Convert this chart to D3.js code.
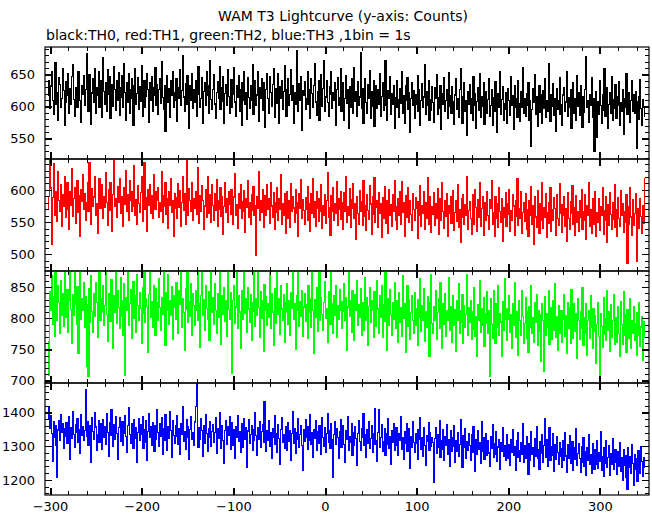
<!DOCTYPE html>
<html><head><meta charset="utf-8">
<script src="https://cdn.jsdelivr.net/npm/d3@7"></script>
<style>body{margin:0;background:#fff}svg{display:block}</style>
</head><body><svg id="c" width="652" height="515"></svg>
<script>
const titleText = "WAM T3 Lightcurve (y-axis: Counts)";
const subtitleText = "black:TH0, red:TH1, green:TH2, blue:TH3 ,1bin = 1s";
const timeStart = -302; // seconds, 1 bin = 1 s
const xMajorTicks = [-300,-200,-100,0,100,200,300];

const th0 = [
618,641,597,632,655,610,588,627,669,603,621,579,645,634,598,612,660,625,571,606,
639,617,652,590,628,603,647,666,611,584,630,622,598,655,640,609,575,633,619,648,
601,627,682,614,593,650,636,572,621,644,607,660,589,629,617,655,598,640,611,583,
676,624,604,637,592,658,619,646,581,613,635,600,662,627,594,641,609,653,586,630,
615,648,598,667,622,579,638,606,651,590,627,643,612,571,633,659,603,620,645,596,
631,608,664,585,623,641,599,616,652,627,575,638,610,647,592,629,618,661,601,634,
588,626,643,605,670,614,596,632,561,623,649,607,628,583,640,617,655,598,621,609,
644,577,630,612,658,601,625,679,615,592,636,604,648,621,566,633,610,652,597,627,
606,640,585,619,662,628,599,613,645,574,624,637,602,655,618,590,632,671,611,596,
627,650,604,581,622,639,612,663,595,630,608,646,573,620,635,601,657,616,589,628,
642,598,619,661,607,584,633,615,649,592,626,571,638,610,654,603,621,580,645,614,
597,632,609,666,588,624,641,602,618,655,577,629,612,643,594,637,606,568,627,651,
613,590,646,622,600,635,659,583,617,628,605,652,574,631,612,640,596,623,664,608,
585,627,644,601,619,658,610,633,574,621,604,688,615,592,636,609,647,563,625,618,
639,596,612,655,603,627,581,644,620,598,633,667,607,586,624,641,579,616,650,600,
628,672,593,615,640,606,584,631,619,655,597,622,609,638,571,626,645,601,614,660,
592,620,637,578,613,649,605,626,566,631,598,644,617,589,661,608,623,584,639,602,
615,684,597,628,574,619,643,606,590,635,612,656,581,624,600,641,569,618,633,597,
627,603,651,585,616,638,594,609,672,601,579,625,612,647,588,620,604,633,566,614,
598,640,611,583,628,605,654,590,617,573,632,609,645,596,621,560,613,637,601,625,
582,619,604,648,593,627,571,610,636,599,615,665,587,623,602,640,578,611,594,631,
606,575,629,612,650,588,614,597,633,565,620,603,645,592,609,626,581,653,600,617,
589,631,607,572,618,644,596,612,583,627,660,601,574,615,638,593,609,555,624,603,
635,590,612,578,647,601,620,566,608,629,594,652,583,615,600,637,572,606,624,589,
611,643,585,602,626,570,614,593,639,605,560,620,598,655,588,611,631,579,604,622,
596,573,628,609,586,646,601,617,565,632,599,612,583,641,605,576,624,598,661,590,
613,584,620,602,637,578,609,538,595,628,606,650,587,615,569,599,633,591,618,574,
625,597,644,583,610,592,667,604,577,619,600,636,586,612,561,628,595,609,645,588,
603,571,618,630,592,607,655,584,614,598,626,566,609,637,590,612,579,648,600,621,
586,633,604,568,615,591,627,678,598,610,575,619,602,645,583,612,530,596,624,552,
607,588,640,601,573,618,594,660,585,609,629,566,603,621,590,646,578,611,597,634,
582,615,601,639,570,606,592,627,556,613,598,652,587,604,621,575,610,640,593,618,
589,624,535,607,580,616,642,597,571,611,600,585];

const th1 = [
572,590,646,603,515,588,641,560,577,597,551,629,584,566,608,543,592,575,620,557,
583,612,569,538,598,576,633,559,587,604,548,579,615,565,591,528,600,582,623,570,
595,553,580,611,567,642,585,546,602,574,589,620,561,578,533,596,617,571,584,609,
556,590,573,627,581,545,600,568,612,576,536,593,649,574,587,558,605,580,618,563,
589,571,544,603,577,630,566,592,552,615,583,567,598,574,637,560,585,547,606,579,
565,596,620,551,582,642,570,588,535,601,576,609,563,591,555,624,578,569,597,584,
603,558,580,566,629,549,591,574,611,562,587,540,598,576,617,565,583,527,595,571,
588,556,610,573,599,543,581,620,568,594,547,645,577,560,602,583,566,612,552,586,
571,598,562,634,579,548,591,567,606,584,539,575,600,557,621,581,563,593,550,609,
576,552,594,568,616,543,583,570,603,559,590,531,574,612,565,587,549,597,578,562,
601,570,546,589,625,561,577,540,594,572,608,555,582,566,599,534,587,573,614,558,
580,547,593,568,605,560,576,498,589,571,629,553,583,565,600,542,575,591,561,608,
569,586,548,612,575,557,596,538,581,565,603,552,587,570,623,546,578,560,595,533,
574,598,556,583,541,610,566,590,572,549,601,563,580,527,594,571,616,555,585,568,
547,588,570,605,553,579,536,595,564,618,558,582,543,598,571,551,587,566,609,540,
576,561,593,548,584,627,557,572,530,591,566,604,552,579,563,613,545,586,569,597,
554,580,538,596,567,621,549,574,560,602,542,585,571,610,556,578,523,590,563,547,
599,566,582,545,614,559,575,537,592,568,554,606,578,531,589,562,619,550,573,584,
541,596,563,579,526,588,556,605,570,548,583,532,600,561,577,544,593,567,615,552,
574,539,586,560,597,546,613,565,580,528,591,558,572,603,549,584,562,537,595,569,
553,588,571,525,582,560,607,544,576,563,598,538,580,555,619,547,569,590,534,574,
562,596,545,578,556,602,531,571,587,552,611,566,540,584,559,595,527,576,564,589,
548,574,599,537,565,583,551,608,542,570,519,586,558,593,546,577,561,621,539,568,
582,555,531,592,566,547,601,573,536,585,557,612,543,571,590,529,563,580,552,597,
560,538,585,572,615,546,564,527,590,555,578,541,603,567,549,586,520,573,557,596,
543,579,562,600,535,568,552,592,575,530,584,559,617,545,571,556,598,533,565,581,
551,594,538,570,527,583,561,605,547,576,516,589,558,542,599,566,532,578,553,612,
540,572,557,595,526,564,581,548,603,535,569,552,588,571,530,592,556,545,610,563,
577,534,560,589,543,571,520,596,555,538,582,563,607,546,573,529,591,550,566,536,
584,558,601,539,567,552,593,523,575,561,612,544,570,533,587,556,547,598,528,565,
549,586,537,574,560,604,531,568,553,590,518,577,545,596,562,539,581,554,609,541,
570,527,588,556,543,599,561,578,534,566,550,592,486,574,547,603,558,530,585,545,
563,595,489,571,552,540,587,559,532,575,548,618];

const th2 = [
762,709,843,812,868,790,835,771,880,818,797,852,826,776,861,805,839,787,873,820,
801,846,778,829,892,814,760,838,805,886,823,790,851,743,817,880,799,832,812,858,
785,835,723,822,707,848,794,869,811,778,839,803,857,826,770,815,884,797,831,809,
852,789,821,885,806,763,840,818,795,862,827,751,836,810,890,792,845,817,783,866,
803,829,772,855,708,834,813,887,788,824,846,768,815,859,800,837,778,871,821,797,
842,816,760,850,808,889,794,831,819,745,838,880,802,827,785,853,811,773,847,825,
796,863,817,781,834,806,891,823,757,841,812,870,790,829,804,851,766,836,818,798,
857,810,775,844,822,883,786,832,809,749,848,815,879,793,827,803,855,772,839,820,
788,845,813,878,797,824,754,837,876,805,830,780,852,816,799,843,765,821,887,809,
833,790,856,812,776,840,801,882,822,758,836,807,849,795,828,771,881,814,798,842,
806,712,829,853,791,818,884,784,837,810,752,845,821,799,893,808,832,777,850,815,
793,838,764,826,811,879,787,831,804,879,817,770,843,800,828,746,854,812,835,789,
824,801,882,783,839,810,757,847,819,792,885,806,831,774,852,815,797,838,761,826,
809,855,790,829,773,842,816,884,798,823,750,836,812,880,787,827,803,845,771,818,
840,795,822,768,853,809,832,786,890,813,744,830,801,849,779,821,879,797,834,806,
780,826,859,800,815,762,843,811,790,884,824,775,837,805,852,769,820,798,846,813,
827,784,811,855,796,833,749,818,888,803,829,778,844,807,765,838,812,861,789,822,
801,847,772,825,808,781,866,797,834,756,819,850,794,828,812,770,843,805,787,860,
815,776,837,801,852,769,822,795,879,810,748,831,789,846,806,772,826,799,857,783,
828,804,761,841,793,817,771,868,800,824,745,812,853,787,830,766,809,836,796,776,
842,788,815,757,830,801,863,779,820,796,848,763,811,785,835,804,739,826,870,792,
775,818,797,845,766,809,832,784,858,801,752,824,790,840,771,813,796,866,780,819,
803,761,836,788,814,747,829,797,856,776,812,793,838,759,821,785,806,870,772,817,
794,828,766,810,782,849,771,803,739,822,797,861,778,815,788,834,755,808,792,843,
776,812,706,831,790,768,845,801,759,823,786,852,772,808,794,739,827,781,863,799,
815,764,798,836,777,806,751,824,789,858,770,811,785,740,829,796,772,845,803,760,
791,833,768,810,745,819,786,852,775,801,762,826,794,838,756,812,779,806,731,823,
797,714,835,772,808,786,844,758,817,790,766,829,781,855,770,803,748,821,795,776,
812,762,799,838,771,805,744,826,783,817,759,846,792,768,824,779,808,735,831,797,
766,810,783,849,757,801,775,823,740,796,813,768,837,785,752,815,779,804,728,790,
826,771,702,808,787,753,833,774,799,764,845,781,810,747,822,769,796,838,758,785,
801,762,819,776,738,827,790,758,843,772,806,745,814,783,767,831,752,797,776,818,
764,792,741,809,773,826,755,786,803,733,794,770];

const th3 = [
1382,1418,1353,1391,1339,1256,1372,1327,1360,1302,1207,1348,1377,1316,1395,1341,1366,1294,1352,1330,
1371,1309,1345,1388,1262,1356,1323,1402,1336,1297,1364,1340,1381,1312,1350,1279,1393,1333,1359,1318,
1347,1468,1329,1374,1301,1362,1338,1253,1385,1344,1319,1399,1357,1288,1335,1376,1310,1366,1343,1291,
1380,1325,1358,1306,1397,1342,1271,1369,1331,1408,1350,1299,1363,1320,1387,1337,1262,1355,1384,1314,
1346,1373,1303,1339,1392,1328,1281,1361,1415,1334,1307,1368,1345,1295,1378,1322,1354,1251,1340,1383,
1317,1365,1336,1389,1293,1349,1311,1376,1258,1344,1398,1327,1357,1302,1370,1335,1284,1362,1321,1410,
1341,1300,1367,1329,1386,1275,1351,1316,1394,1338,1289,1359,1323,1404,1347,1266,1375,1332,1309,1361,
1328,1391,1304,1352,1277,1366,1335,1419,1314,1343,1292,1378,1326,1358,1261,1349,1387,1319,1340,1301,
1372,1418,1485,1333,1296,1356,1320,1381,1347,1270,1362,1308,1395,1337,1285,1353,1327,1374,1299,1344,
1365,1311,1340,1386,1278,1352,1323,1400,1336,1294,1361,1318,1248,1346,1377,1305,1357,1331,1389,1290,
1339,1370,1302,1348,1265,1359,1325,1392,1314,1343,1283,1368,1330,1297,1382,1321,1354,1238,1345,1378,
1307,1336,1361,1288,1350,1316,1399,1333,1272,1355,1320,1373,1298,1344,1363,1310,1432,1329,1284,1347,
1318,1376,1299,1341,1263,1352,1327,1390,1306,1338,1281,1365,1323,1245,1349,1385,1312,1336,1293,1358,
1330,1287,1371,1315,1346,1259,1337,1404,1308,1353,1279,1342,1320,1381,1296,1334,1361,1302,1228,1348,
1313,1379,1326,1291,1357,1318,1395,1304,1340,1267,1350,1322,1375,1289,1344,1309,1362,1331,1276,1385,
1325,1300,1356,1282,1339,1398,1311,1347,1293,1366,1319,1208,1334,1372,1305,1351,1327,1263,1343,1380,
1297,1336,1362,1306,1253,1345,1321,1389,1287,1330,1310,1368,1274,1341,1301,1357,1324,1242,1339,1377,
1313,1288,1352,1327,1396,1302,1335,1266,1349,1309,1373,1294,1323,1360,1281,1337,1304,1411,1318,1256,
1342,1408,1298,1326,1363,1284,1315,1351,1272,1338,1305,1382,1293,1329,1247,1346,1311,1366,1289,1320,
1355,1301,1274,1337,1316,1389,1292,1325,1262,1343,1308,1367,1285,1319,1351,1233,1330,1296,1374,1310,
1282,1339,1307,1261,1348,1320,1385,1291,1327,1270,1356,1302,1244,1333,1315,1371,1288,1341,1299,1326,
1311,1193,1322,1354,1279,1336,1297,1377,1268,1316,1290,1349,1257,1330,1303,1364,1276,1321,1240,1345,
1286,1327,1299,1362,1251,1318,1284,1340,1271,1306,1379,1293,1236,1331,1296,1352,1264,1315,1289,1338,
1302,1258,1334,1281,1357,1294,1226,1319,1276,1346,1290,1311,1249,1372,1285,1327,1262,1305,1339,1273,
1316,1280,1241,1329,1295,1364,1267,1308,1277,1343,1255,1298,1321,1230,1311,1286,1355,1270,1302,1259,
1292,1335,1263,1306,1244,1321,1283,1350,1272,1299,1228,1317,1266,1341,1287,1254,1310,1276,1366,1251,
1301,1265,1328,1282,1215,1309,1258,1344,1276,1297,1240,1322,1270,1357,1263,1290,1231,1314,1279,1336,
1252,1303,1381,1266,1320,1241,1287,1355,1259,1298,1274,1339,1225,1306,1262,1329,1281,1246,1312,1270,
1293,1236,1318,1257,1341,1271,1222,1304,1265,1332,1249,1286,1313,1228,1295,1260,1352,1242,1279,1307,
1264,1221,1300,1251,1327,1239,1285,1212,1296,1258,1336,1245,1274,1219,1309,1263,1231,1290,1247,1318,
1235,1281,1256,1343,1228,1270,1211,1297,1249,1318,1238,1266,1302,1214,1277,1246,1324,1232,1261,1290,
1253,1217,1284,1240,1310,1226,1265,1199,1289,1243,1272,1208,1172,1296,1237,1268,1220,1305,1249,1183,
1276,1232,1262,1194,1287,1241,1219,1298,1254,1210,1266,1238];

const seriesValues = [th0, th1, th2, th3];
const seriesColors = ["#000000", "#ff0000", "#00ff00", "#0000ff"];
const yDomains = [[518, 693], [474, 648], [696, 876], [1155, 1488]];
const yMajorTicks = [[550,600,650], [500,550,600], [700,750,800,850], [1200,1300,1400]];
const yMinorStep = [10, 10, 10, 20];

const W = 652, H = 515;
const left = 45, right = 649, top0 = 47, panelH = 112;
const FONT = '"DejaVu Sans", sans-serif';

const svg = d3.select("#c");
svg.append("rect").attr("width", W).attr("height", H).attr("fill", "#fff");

svg.append("text").attr("x", 343).attr("y", 21).attr("text-anchor", "middle")
  .attr("font-family", FONT).attr("font-size", 14).text(titleText);
svg.append("text").attr("x", 46).attr("y", 40)
  .attr("font-family", FONT).attr("font-size", 14).text(subtitleText);

const x = d3.scaleLinear().domain([-305.5, 353.5]).range([left, right]);
const xMinor = d3.range(-300, 354, 20).filter(v => xMajorTicks.indexOf(v) < 0);
const fmt = d3.format("d");

seriesValues.forEach((vals, i) => {
  const y0 = top0 + i * panelH, y1 = y0 + panelH;
  const y = d3.scaleLinear().domain(yDomains[i]).range([y1, y0]);
  const clipId = "clip" + i;
  svg.append("clipPath").attr("id", clipId).append("rect")
    .attr("x", left).attr("y", y0).attr("width", right - left).attr("height", panelH);
  const line = d3.line().x((d, k) => x(timeStart + k)).y(d => y(d)).curve(d3.curveStep);
  svg.append("path").datum(vals).attr("d", line).attr("fill", "none")
    .attr("stroke", seriesColors[i]).attr("stroke-width", 1.2)
    .attr("shape-rendering", "crispEdges")
    .attr("clip-path", `url(#${clipId})`);

  const [lo, hi] = yDomains[i];
  const step = yMinorStep[i];
  const yMinor = d3.range(Math.ceil(lo / step) * step, hi, step).filter(v => yMajorTicks[i].indexOf(v) < 0);

  function styleAxis(sel, w) {
    sel.select(".domain").remove();
    sel.selectAll("line").attr("stroke", "#000").attr("stroke-width", w).attr("shape-rendering", "crispEdges");
  }
  function styleText(sel) {
    sel.selectAll("text").attr("font-family", FONT).attr("font-size", 13).attr("fill", "#000");
  }
  // y axes
  svg.append("g").attr("transform", `translate(${left},0)`)
    .call(d3.axisLeft(y).tickValues(yMajorTicks[i]).tickFormat(fmt).tickSize(-7).tickPadding(10).tickSizeOuter(0))
    .call(s => styleAxis(s, 1.3)).call(styleText);
  svg.append("g").attr("transform", `translate(${left},0)`)
    .call(d3.axisLeft(y).tickValues(yMinor).tickSize(-4).tickFormat("").tickSizeOuter(0))
    .call(s => styleAxis(s, 1));
  svg.append("g").attr("transform", `translate(${right},0)`)
    .call(d3.axisRight(y).tickValues(yMajorTicks[i]).tickSize(-7).tickFormat("").tickSizeOuter(0))
    .call(s => styleAxis(s, 1.3));
  svg.append("g").attr("transform", `translate(${right},0)`)
    .call(d3.axisRight(y).tickValues(yMinor).tickSize(-4).tickFormat("").tickSizeOuter(0))
    .call(s => styleAxis(s, 1));
  // x axes (top and bottom of each panel)
  svg.append("g").attr("transform", `translate(0,${y0})`)
    .call(d3.axisTop(x).tickValues(xMajorTicks).tickSize(-7).tickFormat("").tickSizeOuter(0))
    .call(s => styleAxis(s, 2));
  svg.append("g").attr("transform", `translate(0,${y0})`)
    .call(d3.axisTop(x).tickValues(xMinor).tickSize(-4).tickFormat("").tickSizeOuter(0))
    .call(s => styleAxis(s, 1));
  const bottomAxis = d3.axisBottom(x).tickValues(xMajorTicks).tickSize(-7).tickSizeOuter(0).tickPadding(7);
  if (i < 3) bottomAxis.tickFormat("");
  svg.append("g").attr("transform", `translate(0,${y1})`)
    .call(bottomAxis)
    .call(s => styleAxis(s, 2)).call(styleText);
  svg.append("g").attr("transform", `translate(0,${y1})`)
    .call(d3.axisBottom(x).tickValues(xMinor).tickSize(-4).tickFormat("").tickSizeOuter(0))
    .call(s => styleAxis(s, 1));
  // frame
  svg.append("rect").attr("x", left).attr("y", y0).attr("width", right - left).attr("height", panelH)
    .attr("fill", "none").attr("stroke", "#000").attr("stroke-width", 1.2);
});
</script></body></html>
